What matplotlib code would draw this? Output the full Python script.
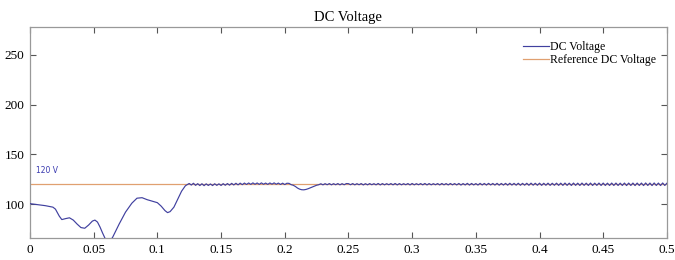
import matplotlib
matplotlib.use("Agg")
import matplotlib.pyplot as plt
import numpy as np

plt.rcParams["font.family"] = ["Liberation Serif", "DejaVu Serif"]

# transient part of the DC link voltage (s, V)
t_transient = [0.000, 0.006, 0.012, 0.018, 0.020, 0.023, 0.025, 0.028, 0.031,
               0.034, 0.037, 0.040, 0.043, 0.046, 0.049, 0.051, 0.053, 0.055,
               0.057, 0.059, 0.061, 0.063, 0.065, 0.070, 0.075, 0.080, 0.084,
               0.088, 0.092, 0.096, 0.100, 0.103, 0.106, 0.108, 0.110, 0.113,
               0.116, 0.119, 0.122]
v_transient = [100.5, 99.5, 98.5, 97.0, 95.0, 88.0, 84.5, 85.5, 86.3,
               84.0, 80.0, 76.5, 75.8, 79.0, 83.0, 84.0, 82.0, 77.0,
               71.0, 65.5, 61.0, 63.0, 67.0, 80.0, 92.0, 101.0, 106.0,
               106.5, 104.5, 103.0, 101.5, 98.0, 93.5, 91.5, 92.5, 97.0,
               105.0, 113.0, 118.5]

# settled part, sampled every 1.5 ms from 0.125 s to 0.5 s
v_settled = [
    120.8, 119.2, 121.0, 118.9, 120.6, 118.7, 120.5, 118.6, 120.4, 118.8, 120.3, 118.7, 120.5,
    118.9, 120.4, 118.8, 120.6, 119.0, 120.7, 119.1, 120.9, 119.3, 121.0, 119.4, 121.1,
    119.6, 121.2, 119.8, 121.3, 119.9, 121.4, 120.0, 121.3, 119.9, 121.4, 120.0, 121.2, 119.9,
    121.3, 120.1, 121.4, 120.0, 121.2, 119.8, 121.1, 119.7, 121.0, 120.9, 119.6, 119.0,
    117.8, 116.2, 115.1, 114.5, 114.4, 114.8, 115.5, 116.4, 117.4, 118.3, 119.0, 119.5, 120.5,
    119.4, 120.6, 119.5, 120.7, 119.4, 120.6, 119.5, 120.7, 119.4, 120.6, 119.5, 120.7,
    120.6, 119.5, 120.7, 119.4, 120.6, 119.5, 120.7, 119.3, 120.6, 119.4, 120.7, 119.5, 120.6,
    119.4, 120.8, 119.3, 120.7, 119.4, 120.6, 119.5, 120.7, 119.4, 120.8, 119.3, 120.7,
    119.4, 120.6, 119.5, 120.7, 119.3, 120.8, 119.4, 120.6, 119.5, 120.7, 119.4, 120.8, 119.3,
    120.7, 119.4, 120.6, 119.5, 120.7, 119.3, 120.8, 119.4, 120.7, 119.3, 120.8, 119.4,
    120.7, 119.3, 120.8, 119.2, 120.7, 119.3, 120.9, 119.2, 120.8, 119.3, 120.7, 119.2, 120.9,
    119.3, 120.8, 119.2, 120.9, 119.3, 120.8, 119.2, 120.9, 119.1, 120.8, 119.2, 120.9,
    119.1, 121.0, 119.2, 120.9, 119.1, 121.0, 119.0, 120.9, 119.1, 121.0, 119.0, 121.1, 119.1,
    121.0, 119.0, 121.1, 118.9, 121.0, 119.0, 121.1, 118.9, 121.0, 119.0, 121.1, 118.9,
    121.1, 118.9, 121.2, 118.9, 121.1, 118.8, 121.2, 118.9, 121.1, 118.8, 121.2, 118.9, 121.1,
    118.8, 121.2, 118.8, 121.1, 118.9, 121.2, 118.8, 121.2, 118.8, 121.1, 118.8, 121.2,
    118.8, 121.2, 118.8, 121.1, 118.8, 121.2, 118.7, 121.2, 118.8, 121.2, 118.7, 121.2, 118.8,
    121.2, 118.7, 121.3, 118.8, 121.2, 118.7, 121.3, 118.8, 121.2, 118.7, 121.3, 118.8,
    121.0,
]
t_settled = np.linspace(0.125, 0.5, len(v_settled))

v_reference = 120
x_ticks = [0, 0.05, 0.1, 0.15, 0.2, 0.25, 0.3, 0.35, 0.4, 0.45, 0.5]
x_labels = ["0", "0.05", "0.1", "0.15", "0.2", "0.25", "0.3", "0.35", "0.4", "0.45", "0.5"]
y_ticks = [100, 150, 200, 250]

t = np.concatenate([t_transient, t_settled])
v = np.concatenate([v_transient, v_settled])

fig = plt.figure(figsize=(6.75, 2.6), dpi=100)
ax = fig.add_axes([0.0444, 0.0846, 0.9436, 0.8115])

ax.axhline(v_reference, color="#e0a070", lw=0.9, label="Reference DC Voltage", zorder=2)
ax.plot(t, v, color="#40409f", lw=0.85, label="DC Voltage", zorder=3)

ax.text(0.005, 131, "120 V", color="#3a3ab0", fontsize=5.5, family="DejaVu Sans")

ax.set_xlim(0, 0.5)
ax.set_ylim(66, 278)
ax.set_xticks(x_ticks)
ax.set_xticklabels(x_labels)
ax.set_yticks(y_ticks)
ax.tick_params(direction="in", top=True, right=True, length=4, width=0.8,
               color="#555555", labelsize=9.5, pad=4)
for spine in ax.spines.values():
    spine.set_edgecolor("#999999")
    spine.set_linewidth(0.9)

ax.set_title("DC Voltage", fontsize=10.5, pad=4)

handles, labels = ax.get_legend_handles_labels()
leg = ax.legend(handles[::-1], labels[::-1], loc="upper right", frameon=False,
                fontsize=8.5, handlelength=2.2, handletextpad=0.1, labelspacing=0.1,
                borderaxespad=0.5, bbox_to_anchor=(1.0, 0.985))

fig.savefig("out.png", dpi=100, facecolor="white")
